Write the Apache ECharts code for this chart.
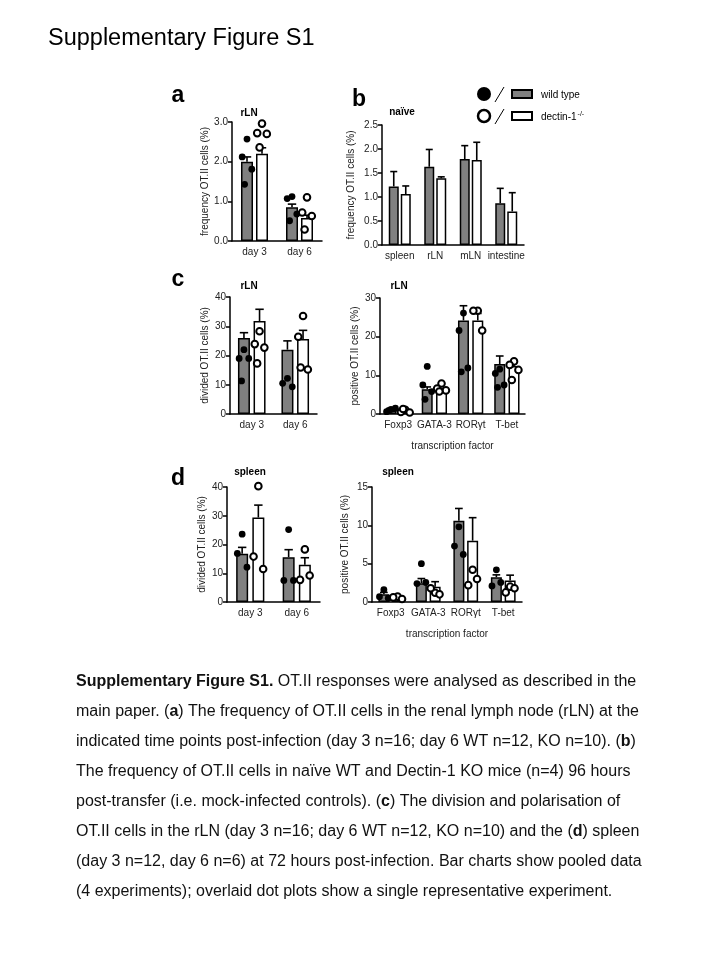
<!DOCTYPE html>
<html>
<head>
<meta charset="utf-8">
<script src="https://cdn.jsdelivr.net/npm/echarts@6/dist/echarts.min.js"></script>
<style>
  html, body { margin: 0; padding: 0; background: #fff; }
  #chart { width: 720px; height: 960px; }
</style>
</head>
<body>
<div id="chart"></div>
<script>
// --- data ---
const days = ['day 3', 'day 6'];
const tissues = ['spleen', 'rLN', 'mLN', 'intestine'];
const factors = ['Foxp3', 'GATA-3', 'RORγt', 'T-bet'];

// a: frequency OT.II cells in rLN (%)
const aWT = [2.0, 0.85];
const aWTErr = [0.12, 0.08];
const aKO = [2.2, 0.58];
const aKOErr = [0.15, 0.07];
const aWTDots = [[2.57, 2.12, 1.81, 1.43], [1.12, 1.07, 0.68, 0.51]];
const aKODots = [[2.96, 2.72, 2.70, 2.36], [1.10, 0.72, 0.63, 0.29]];

// b: naive
const bWT = [1.22, 1.63, 1.79, 0.87];
const bWTErr = [0.31, 0.36, 0.28, 0.31];
const bKO = [1.06, 1.39, 1.77, 0.70];
const bKOErr = [0.17, 0.03, 0.37, 0.39];

// c left: divided OT.II cells, rLN
const cLWT = [26, 22];
const cLWTErr = [1.8, 3.0];
const cLKO = [31.8, 25.6];
const cLKOErr = [4.0, 3.0];
const cLWTDots = [[22, 19, 19, 11.3], [12.2, 10.5, 9.3]];
const cLKODots = [[28.3, 23.9, 22.7, 17.3], [33.5, 26.4, 15.2, 15.9]];

// c right: positive OT.II cells, rLN
const cRWT = [0.9, 6.4, 24.2, 12.9];
const cRWTErr = [0.3, 0.6, 3.8, 2.1];
const cRKO = [0.8, 6.1, 24.2, 12.4];
const cRKOErr = [0.2, 0.5, 1.8, 1.4];
const cRWTDots = [[1.2, 0.6, 1.5, 0.9], [12.3, 7.5, 5.8, 3.8], [26.1, 21.6, 11.9, 10.9], [11.6, 10.5, 7.5, 6.9]];
const cRKODots = [[1.1, 0.5, 0.4, 1.3], [7.9, 6.6, 6.1, 5.8], [26.7, 26.7, 21.6], [13.6, 12.7, 11.4, 8.8]];

// d left: divided OT.II cells, spleen
const dLWT = [16.8, 15.6];
const dLWTErr = [2.2, 2.6];
const dLKO = [29.4, 13.0];
const dLKOErr = [4.3, 2.4];
const dLWTDots = [[23.6, 16.9, 12.1], [25.2, 7.5, 7.5]];
const dLKODots = [[40.3, 15.8, 11.5], [18.3, 7.7, 9.2]];

// d right: positive OT.II cells, spleen
const dRWT = [1.0, 2.46, 10.6, 3.24];
const dRWTErr = [0.25, 0.6, 1.6, 0.3];
const dRKO = [0.7, 2.0, 8.0, 2.8];
const dRKOErr = [0.1, 0.65, 3.0, 0.7];
const dRWTDots = [[1.6, 0.7, 0.5], [5.0, 2.4, 2.55], [9.8, 7.3, 6.2], [4.2, 2.1, 2.55]];
const dRKODots = [[0.7, 0.6, 0.4], [1.2, 1.8, 1.0], [4.2, 2.2, 3.0], [2.0, 1.25, 1.8]];

const captionLines = [
  '{b|Supplementary Figure S1.} OT.II responses were analysed as described in the',
  'main paper. ({b|a}) The frequency of OT.II cells in the renal lymph node (rLN) at the',
  'indicated time points post-infection (day 3 n=16; day 6 WT n=12, KO n=10). ({b|b})',
  'The frequency of OT.II cells in naïve WT and Dectin-1 KO mice (n=4) 96 hours',
  'post-transfer (i.e. mock-infected controls). ({b|c}) The division and polarisation of',
  'OT.II cells in the rLN (day 3 n=16; day 6 WT n=12, KO n=10) and the ({b|d}) spleen',
  '(day 3 n=12, day 6 n=6) at 72 hours post-infection. Bar charts show pooled data',
  '(4 experiments); overlaid dot plots show a single representative experiment.'
];

// --- layout ---
const FONT = '"Liberation Sans", Arial, Helvetica, sans-serif';
const jitter = [0, -0.4, 0.4, -0.2, 0.2];

const panels = [
  { grid: { left: 232, top: 122, width: 90, height: 119 }, cats: days, max: 3, interval: 1, dec: 1,
    bw: 12, gap: 0.25, yName: 'frequency OT.II cells (%)', nameGap: 22,
    wt: aWT, wtErr: aWTErr, ko: aKO, koErr: aKOErr, wtDots: aWTDots, koDots: aKODots },
  { grid: { left: 382, top: 125, width: 142, height: 120 }, cats: tissues, max: 2.5, interval: 0.5, dec: 1,
    bw: 10, gap: 0.2, yName: 'frequency OT.II cells (%)', nameGap: 26,
    wt: bWT, wtErr: bWTErr, ko: bKO, koErr: bKOErr },
  { grid: { left: 230, top: 297, width: 87, height: 117 }, cats: days, max: 40, interval: 10, dec: 0,
    bw: 12, gap: 0.3, yName: 'divided OT.II cells (%)', nameGap: 20,
    wt: cLWT, wtErr: cLWTErr, ko: cLKO, koErr: cLKOErr, wtDots: cLWTDots, koDots: cLKODots },
  { grid: { left: 380, top: 298, width: 145, height: 116 }, cats: factors, max: 30, interval: 10, dec: 0,
    bw: 11, gap: 0.3, yName: 'positive OT.II cells (%)', nameGap: 20, xName: 'transcription factor',
    wt: cRWT, wtErr: cRWTErr, ko: cRKO, koErr: cRKOErr, wtDots: cRWTDots, koDots: cRKODots },
  { grid: { left: 227, top: 487, width: 93, height: 115 }, cats: days, max: 40, interval: 10, dec: 0,
    bw: 12, gap: 0.35, yName: 'divided OT.II cells (%)', nameGap: 20,
    wt: dLWT, wtErr: dLWTErr, ko: dLKO, koErr: dLKOErr, wtDots: dLWTDots, koDots: dLKODots },
  { grid: { left: 372, top: 487, width: 150, height: 115 }, cats: factors, max: 15, interval: 5, dec: 0,
    bw: 11, gap: 0.25, yName: 'positive OT.II cells (%)', nameGap: 22, xName: 'transcription factor',
    wt: dRWT, wtErr: dRWTErr, ko: dRKO, koErr: dRKOErr, wtDots: dRWTDots, koDots: dRKODots }
];

const axisLine = { lineStyle: { color: '#000', width: 1.5 } };
const grids = [], xAxes = [], yAxes = [], series = [];

function errorSeries(gi, means, errs, side, p) {
  const off = side * p.bw * (1 + p.gap) / 2;
  return {
    type: 'custom', xAxisIndex: gi, yAxisIndex: gi, z: 3, silent: true,
    data: means.map((m, i) => [i, m, m + errs[i]]),
    renderItem: (params, api) => {
      const b = api.coord([api.value(0), api.value(1)]);
      const t = api.coord([api.value(0), api.value(2)]);
      const x = b[0] + off, c = p.bw * 0.35;
      const st = { stroke: '#000', lineWidth: 1.6 };
      return { type: 'group', children: [
        { type: 'line', shape: { x1: x, y1: b[1], x2: x, y2: t[1] }, style: st },
        { type: 'line', shape: { x1: x - c, y1: t[1], x2: x + c, y2: t[1] }, style: st }
      ] };
    }
  };
}

function dotSeries(gi, dots, side, filled, p) {
  const off = side * p.bw * (1 + p.gap) / 2;
  const data = [];
  dots.forEach((vals, i) => vals.forEach((v, j) => data.push([i, v, j])));
  return {
    type: 'custom', xAxisIndex: gi, yAxisIndex: gi, z: 4, silent: true,
    data: data,
    renderItem: (params, api) => {
      const pt = api.coord([api.value(0), api.value(1)]);
      const x = pt[0] + off + jitter[api.value(2) % jitter.length] * p.bw;
      return filled
        ? { type: 'circle', shape: { cx: x, cy: pt[1], r: 3.4 }, style: { fill: '#000' } }
        : { type: 'circle', shape: { cx: x, cy: pt[1], r: 3.3 }, style: { fill: '#fff', stroke: '#000', lineWidth: 2 } };
    }
  };
}

panels.forEach((p, gi) => {
  grids.push(p.grid);
  xAxes.push({
    gridIndex: gi, type: 'category', data: p.cats,
    name: p.xName || '', nameLocation: 'middle', nameGap: 27,
    nameTextStyle: { fontSize: 10, color: '#222', fontFamily: FONT },
    axisLine: axisLine,
    axisTick: { alignWithLabel: true, length: 4, lineStyle: { color: '#000', width: 1.5 } },
    axisLabel: { fontSize: 10, color: '#222', margin: 6, fontFamily: FONT, interval: 0 }
  });
  yAxes.push({
    gridIndex: gi, type: 'value', min: 0, max: p.max, interval: p.interval,
    name: p.yName, nameLocation: 'middle', nameGap: p.nameGap, nameRotate: 90,
    nameTextStyle: { fontSize: 10, color: '#222', fontFamily: FONT },
    axisLine: Object.assign({ show: true }, axisLine),
    axisTick: { show: true, length: 4, lineStyle: { color: '#000', width: 1.5 } },
    axisLabel: { fontSize: 10, color: '#222', margin: 4, fontFamily: FONT,
      formatter: v => v.toFixed(p.dec) },
    splitLine: { show: false }
  });
  series.push({
    type: 'bar', xAxisIndex: gi, yAxisIndex: gi, data: p.wt, barWidth: p.bw,
    barGap: (p.gap * 100) + '%', silent: true,
    itemStyle: { color: '#808080', borderColor: '#000', borderWidth: 1.5 }
  });
  series.push({
    type: 'bar', xAxisIndex: gi, yAxisIndex: gi, data: p.ko, barWidth: p.bw,
    barGap: (p.gap * 100) + '%', silent: true,
    itemStyle: { color: '#fff', borderColor: '#000', borderWidth: 1.5 }
  });
  series.push(errorSeries(gi, p.wt, p.wtErr, -1, p));
  series.push(errorSeries(gi, p.ko, p.koErr, 1, p));
  if (p.wtDots) series.push(dotSeries(gi, p.wtDots, -1, true, p));
  if (p.koDots) series.push(dotSeries(gi, p.koDots, 1, false, p));
});

function label(text, x, y, size, bold) {
  return { type: 'text', x: x, y: y, silent: true,
    style: { text: text, fontSize: size, fontWeight: bold ? 'bold' : 'normal', fontFamily: FONT,
      fill: '#000', align: 'center', verticalAlign: 'middle' } };
}

const graphic = [
  { type: 'text', x: 48, y: 39, silent: true,
    style: { text: 'Supplementary Figure S1', fontSize: 23.5, fontFamily: FONT, fill: '#000', verticalAlign: 'middle' } },
  label('a', 178, 96, 23, true),
  label('b', 359, 100, 23, true),
  label('c', 178, 280, 23, true),
  label('d', 178, 479, 23, true),
  label('rLN', 249, 113, 10, true),
  label('naïve', 402, 112, 10, true),
  label('rLN', 249, 286, 10, true),
  label('rLN', 399, 286, 10, true),
  label('spleen', 250, 472, 10, true),
  label('spleen', 398, 472, 10, true),
  // legend
  { type: 'circle', shape: { cx: 484, cy: 94, r: 7 }, style: { fill: '#000' }, silent: true },
  { type: 'line', shape: { x1: 495, y1: 102, x2: 504, y2: 87 }, style: { stroke: '#000', lineWidth: 1 }, silent: true },
  { type: 'rect', shape: { x: 512, y: 90, width: 20, height: 8 }, style: { fill: '#808080', stroke: '#000', lineWidth: 2 }, silent: true },
  { type: 'text', x: 541, y: 95, silent: true,
    style: { text: 'wild type', fontSize: 10, fontFamily: FONT, fill: '#000', verticalAlign: 'middle' } },
  { type: 'circle', shape: { cx: 484, cy: 116, r: 6 }, style: { fill: '#fff', stroke: '#000', lineWidth: 2.5 }, silent: true },
  { type: 'line', shape: { x1: 495, y1: 124, x2: 504, y2: 109 }, style: { stroke: '#000', lineWidth: 1 }, silent: true },
  { type: 'rect', shape: { x: 512, y: 112, width: 20, height: 8 }, style: { fill: '#fff', stroke: '#000', lineWidth: 2 }, silent: true },
  { type: 'text', x: 541, y: 117, silent: true,
    style: { text: 'dectin-1{s|-/-}', fontSize: 10, fontFamily: FONT, fill: '#000', verticalAlign: 'middle',
      rich: { s: { fontSize: 7, fontFamily: FONT, verticalAlign: 'top', padding: [0, 0, 6, 1] } } } }
];

captionLines.forEach((line, i) => {
  graphic.push({ type: 'text', x: 76, y: 682 + i * 30, silent: true,
    style: { text: line, fontSize: 16, fontFamily: FONT, fill: '#111', verticalAlign: 'middle',
      rich: { b: { fontSize: 16, fontFamily: FONT, fontWeight: 'bold', fill: '#111' } } } });
});

const chart = echarts.init(document.getElementById('chart'));
chart.setOption({
  animation: false,
  backgroundColor: '#fff',
  grid: grids,
  xAxis: xAxes,
  yAxis: yAxes,
  series: series,
  graphic: graphic
});
</script>
</body>
</html>
